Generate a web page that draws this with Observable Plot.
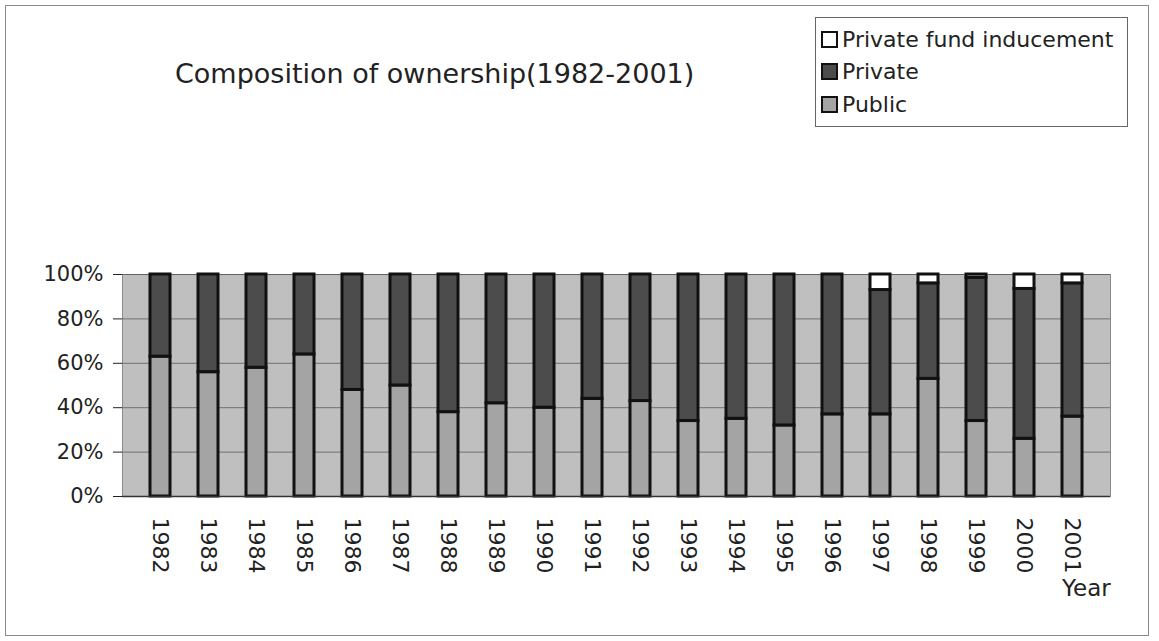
<!DOCTYPE html>
<html>
<head>
<meta charset="utf-8">
<script src="https://cdn.jsdelivr.net/npm/d3@7"></script>
<script src="https://cdn.jsdelivr.net/npm/@observablehq/plot@0.6"></script>
<style>
  html, body { margin: 0; padding: 0; background: #fff; }
  #wrap { position: relative; width: 1159px; height: 641px; overflow: hidden; font-family: "DejaVu Sans", Verdana, sans-serif; }
  #border { position: absolute; left: 5px; top: 5px; width: 1144px; height: 631px; border: 1px solid #8a8a8a; box-sizing: border-box; }
  #title { position: absolute; left: 175px; top: 58px; font-size: 27px; color: #222; white-space: nowrap; }
  #legend { position: absolute; left: 815px; top: 17px; width: 313px; height: 110px; border: 1px solid #666; box-sizing: border-box; background: #fff; padding: 5px 0 0 5px; }
  .item { display: flex; align-items: center; height: 32.5px; font-size: 22px; color: #222; }
  .sw { width: 13px; height: 13px; border: 2px solid #111; margin-right: 4px; flex: none; }
  #year { position: absolute; left: 1062px; top: 575px; font-size: 23px; color: #222; }
  #chart { position: absolute; left: 0; top: 0; }
</style>
</head>
<body>
<div id="wrap">
  <div id="border"></div>
  <div id="chart"></div>
  <div id="title">Composition of ownership(1982-2001)</div>
  <div id="legend"></div>
  <div id="year">Year</div>
</div>
<script>
const years = [1982,1983,1984,1985,1986,1987,1988,1989,1990,1991,1992,1993,1994,1995,1996,1997,1998,1999,2000,2001];
const publicShare  = [63,56,58,64,48,50,38,42,40,44,43,34,35,32,37,37,53,34,26,36];
const privateShare = [37,44,42,36,52,50,62,58,60,56,57,66,65,68,63,56,43,64.5,67.5,60];
const pfiShare     = [0,0,0,0,0,0,0,0,0,0,0,0,0,0,0,7,4,1.5,6.5,4];
const seriesNames  = ["Public","Private","Private fund inducement"];
const seriesColors = ["#a4a4a4","#4c4c4c","#ffffff"];
const yTicks = [0,20,40,60,80,100];

const rows = [];
years.forEach((y, i) => {
  rows.push({year: String(y), series: seriesNames[0], value: publicShare[i]});
  rows.push({year: String(y), series: seriesNames[1], value: privateShare[i]});
  rows.push({year: String(y), series: seriesNames[2], value: pfiShare[i]});
});

const chart = Plot.plot({
  width: 1159,
  height: 641,
  marginLeft: 122,
  marginRight: 49,
  marginTop: 274,
  marginBottom: 145,
  style: {fontFamily: "DejaVu Sans, Verdana, sans-serif", fontSize: "20px", color: "#222", background: "transparent"},
  x: {domain: years.map(String), padding: 0.58},
  y: {domain: [0, 100]},
  color: {domain: seriesNames, range: seriesColors},
  marks: [
    Plot.frame({fill: "#bfbfbf", stroke: "#8a8a8a"}),
    Plot.gridY(yTicks, {stroke: "#555", strokeOpacity: 0.75, strokeWidth: 1}),
    Plot.barY(rows, {x: "year", y: "value", fill: "series", stroke: "#111", strokeWidth: 3, order: seriesNames, filter: d => d.value > 0}),
    Plot.ruleY([0], {stroke: "#333", strokeWidth: 1.5}),
    Plot.axisY(yTicks, {tickFormat: d => d + "%", label: null, tickSize: 9, tickPadding: 10, fontSize: 21}),
    Plot.axisX({label: null, tickSize: 0, tickRotate: 90, tickPadding: 21, fontSize: 22})
  ]
});
document.getElementById("chart").appendChild(chart);

const legend = document.getElementById("legend");
[2,1,0].forEach(i => {
  const it = document.createElement("div");
  it.className = "item";
  const sw = document.createElement("span");
  sw.className = "sw";
  sw.style.background = seriesColors[i];
  const tx = document.createElement("span");
  tx.textContent = seriesNames[i];
  it.appendChild(sw); it.appendChild(tx);
  legend.appendChild(it);
});
</script>
</body>
</html>
